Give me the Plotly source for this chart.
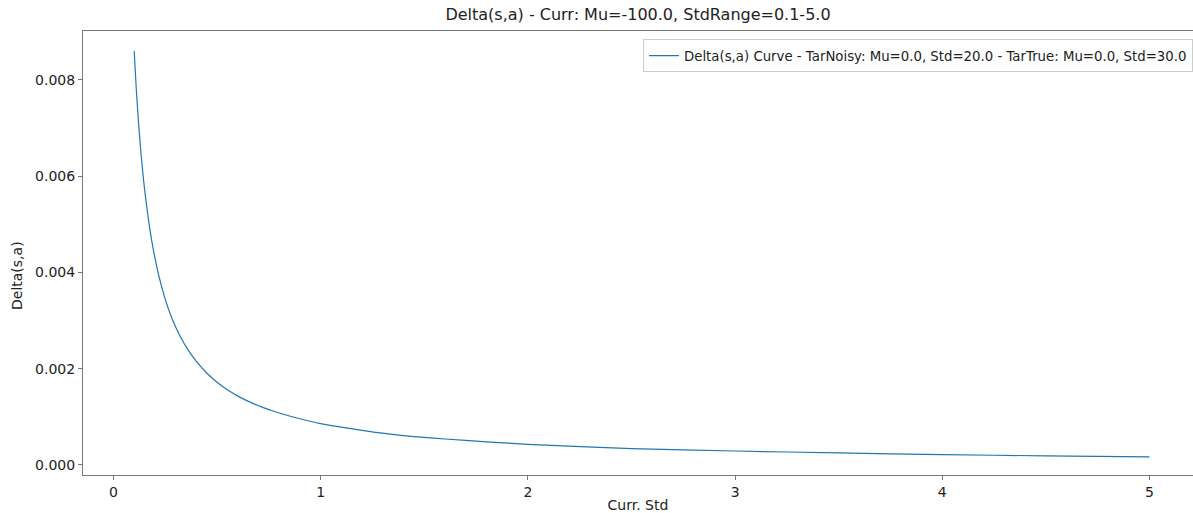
import plotly.graph_objects as go

# Values
curr_std = [0.1, 0.11, 0.12, 0.13, 0.14, 0.15, 0.17, 0.19, 0.22, 0.25, 0.28, 0.32, 0.36,
            0.4, 0.45, 0.5, 0.55, 0.6, 0.7, 0.8, 0.9, 1.0, 1.2, 1.4, 1.6, 1.8, 2.0, 2.5,
            3.0, 3.5, 4.0, 4.5, 5.0]
delta_sa = [0.0086, 0.00782, 0.00717, 0.00662, 0.00614, 0.00573, 0.00506, 0.00453,
            0.00391, 0.00344, 0.00307, 0.00269, 0.00239, 0.00215, 0.00191, 0.00172,
            0.00156, 0.00143, 0.00123, 0.00108, 0.00096, 0.00086, 0.00072, 0.00061,
            0.00054, 0.00048, 0.00043, 0.00034, 0.00029, 0.00025, 0.000215, 0.00019,
            0.00017]

x_ticks = [0, 1, 2, 3, 4, 5]
y_ticks = [0.0, 0.002, 0.004, 0.006, 0.008]
y_tick_labels = ["0.000", "0.002", "0.004", "0.006", "0.008"]

title = "Delta(s,a) - Curr: Mu=-100.0, StdRange=0.1-5.0"
series_name = "Delta(s,a) Curve - TarNoisy: Mu=0.0, Std=20.0 - TarTrue: Mu=0.0, Std=30.0"
x_title = "Curr. Std"
y_title = "Delta(s,a)"

font_family = "DejaVu Sans"
text_color = "#222222"

fig = go.Figure()
fig.add_trace(go.Scatter(
    x=curr_std, y=delta_sa, mode="lines", name=series_name,
    line=dict(color="#1f77b4", width=1.2, shape="spline", smoothing=0.5),
))

axis_common = dict(
    showgrid=False, zeroline=False, showline=True, linecolor="#777777", linewidth=1,
    ticks="outside", ticklen=4, tickcolor="#777777", automargin=False,
    tickfont=dict(size=14, color=text_color, family=font_family),
)

fig.update_layout(
    width=1193, height=513,
    margin=dict(l=83, r=0, t=31, b=38),
    paper_bgcolor="white", plot_bgcolor="white",
    font=dict(family=font_family, color=text_color),
    title=dict(text=title, x=0.5, xref="paper", xanchor="center", y=0.972, yanchor="middle",
               font=dict(size=16, color=text_color, family=font_family)),
    showlegend=True,
    legend=dict(x=1.0, y=0.981, xanchor="right", yanchor="top", bgcolor="white",
                bordercolor="#cccccc", borderwidth=1,
                font=dict(size=13.3, color=text_color, family=font_family)),
    xaxis=dict(axis_common, range=[-0.147, 5.21], tickvals=x_ticks, mirror=True,
               title=dict(text=x_title, font=dict(size=14, family=font_family), standoff=6)),
    yaxis=dict(axis_common, range=[-0.000208, 0.009013], tickvals=y_ticks, ticktext=y_tick_labels,
               mirror=False),
)

fig.add_annotation(text=y_title, xref="paper", yref="paper",
                   x=-(83 - 17) / 1110, y=(475 - 276) / 444,
                   xanchor="center", yanchor="middle", showarrow=False, textangle=-90,
                   font=dict(size=14, color=text_color, family=font_family))

fig.write_html("out.html")
